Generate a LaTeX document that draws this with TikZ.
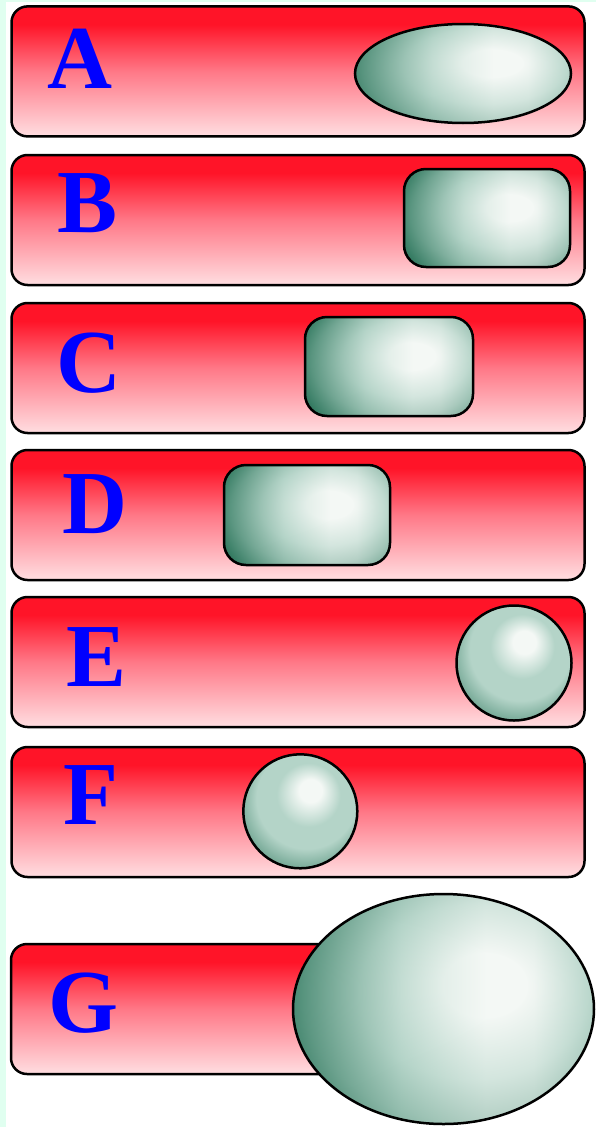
\documentclass[tikz,border=0pt]{standalone}
\usepackage{fontspec}
\setmainfont{Liberation Serif}
\usetikzlibrary{shapes.geometric}
\definecolor{mint}{RGB}{224,255,240}
\definecolor{barTop}{RGB}{255,20,40}
\definecolor{barMid}{RGB}{255,120,135}
\definecolor{barBot}{RGB}{255,222,225}
\definecolor{blobDark}{RGB}{45,118,92}
\definecolor{blobMid}{RGB}{180,212,200}
\definecolor{blobLight}{RGB}{244,248,245}
\definecolor{letterBlue}{RGB}{0,0,255}
\pgfdeclareverticalshading{barsh}{100bp}{color(0bp)=(barBot); color(25bp)=(barBot); color(50bp)=(barMid); color(68bp)=(barTop); color(75bp)=(barTop); color(100bp)=(barTop)}
\pgfdeclarehorizontalshading{blobh}{100bp}{color(0bp)=(blobDark); color(25bp)=(blobDark); color(33bp)=(blobDark!55!blobMid); color(43bp)=(blobMid); color(57bp)=(blobLight); color(65bp)=(blobLight); color(75bp)=(blobMid!80!blobLight); color(100bp)=(blobMid)}
\pgfdeclareradialshading{blobo}{\pgfpoint{8bp}{6bp}}{color(0bp)=(blobLight); color(7bp)=(blobLight); color(19bp)=(blobMid); color(27bp)=(blobMid!55!blobDark); color(34bp)=(blobDark); color(50bp)=(blobDark)}
\pgfdeclareradialshading{blobr}{\pgfpoint{5bp}{10bp}}{color(0bp)=(blobLight); color(5bp)=(blobLight); color(14bp)=(blobMid); color(22bp)=(blobMid); color(30bp)=(blobMid!50!blobDark); color(40bp)=(blobDark); color(50bp)=(blobDark)}
\tikzset{
  bar/.style={draw=black, line width=2.5pt, rounded corners=16pt, inner sep=0pt,
    minimum height=130pt, shading=barsh},
  fullbar/.style={bar, minimum width=573pt},
  letter/.style={inner sep=0pt, text=letterBlue, font=\fontsize{90}{90}\selectfont\bfseries},
  blobshape/.style={draw=black, line width=2.5pt, inner sep=0pt,
    preaction={shade, shading=blobh, fill opacity=1}, shading=blobo, fill opacity=0.5},
  blobrect/.style={blobshape, rectangle, rounded corners=22pt},
  blobell/.style={blobshape, ellipse},
  blobcirc/.style={draw=black, line width=2.5pt, inner sep=0pt, circle, shading=blobr}
}
\begin{document}
\begin{tikzpicture}[x=1pt, y=-1pt]
\useasboundingbox (0,0) rectangle (596,1127);
\fill[white] (0,0) rectangle (596,1127);
\fill[mint] (0,0) rectangle (6,1127);
\fill[mint] (0,0) rectangle (596,1.5);
% bars
\node[fullbar] (barA) at (298,71.4) {};
\node[fullbar] (barB) at (298,220) {};
\node[fullbar] (barC) at (298,368) {};
\node[fullbar] (barD) at (298,515) {};
\node[fullbar] (barE) at (298,662) {};
\node[fullbar] (barF) at (298,812) {};
\node[bar, minimum width=440pt] (barG) at (231,1009) {};
% letters
\node[letter] (lA) at (80,58.5) {A};
\node[letter] (lB) at (87.5,203) {B};
\node[letter] (lC) at (89,363) {C};
\node[letter] (lD) at (95,504) {D};
\node[letter] (lE) at (96.5,657) {E};
\node[letter] (lF) at (91,795) {F};
\node[letter] (lG) at (84,1003) {G};
% shapes
\node[blobell, minimum width=216pt, minimum height=99pt] (sA) at (463,73.5) {};
\node[blobrect, minimum width=166pt, minimum height=98pt] (sB) at (487,218) {};
\node[blobrect, minimum width=168pt, minimum height=99pt] (sC) at (389,366.5) {};
\node[blobrect, minimum width=166pt, minimum height=100pt] (sD) at (307,515) {};
\node[blobcirc, minimum size=115pt] (sE) at (514,663) {};
\node[blobcirc, minimum size=114pt] (sF) at (300.3,811.3) {};
\node[blobell, minimum width=301pt, minimum height=230pt] (sG) at (443.5,1009) {};
\end{tikzpicture}
\end{document}
